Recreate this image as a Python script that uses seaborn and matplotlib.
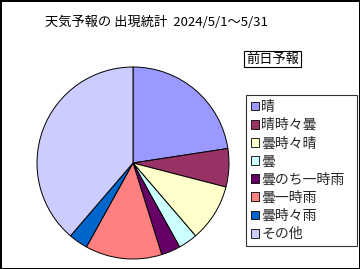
import matplotlib
matplotlib.use("Agg")
import matplotlib.pyplot as plt
import seaborn as sns
from matplotlib.patches import Patch

sns.set_theme(style="white")
plt.rcParams['font.family'] = ['Noto Sans CJK JP', 'DejaVu Sans']

categories = ["晴", "晴時々曇", "曇時々晴", "曇", "曇のち一時雨", "曇一時雨", "曇時々雨", "その他"]
days = [7, 2, 3, 1, 1, 4, 1, 12]
colors = ["#9999FF", "#993366", "#FFFFCC", "#CCFFFF", "#660066", "#FF8080", "#0066CC", "#CCCCFF"]
title = "天気予報の 出現統計  2024/5/1～5/31"
subtitle = "前日予報"

W, H = 360, 269
fig = plt.figure(figsize=(W / 100, H / 100), dpi=100)
fig.patch.set_facecolor("white")
fig.patch.set_edgecolor("black")
fig.patch.set_linewidth(2)

cx, cy, r = 133, 163, 96
ax = fig.add_axes([(cx - r) / W, (H - cy - r) / H, 2 * r / W, 2 * r / H])
ax.pie(days, colors=colors, startangle=90, counterclock=False,
       wedgeprops=dict(edgecolor="black", linewidth=0.7))
ax.set_xlim(-1.0, 1.0)
ax.set_ylim(-1.0, 1.0)
ax.set_aspect("equal")
ax.axis("off")

fig.text(45 / W, 1 - 22 / H, title, fontsize=9.5, ha="left", va="center", color="black")
fig.text(246 / W, 1 - 59 / H, subtitle, fontsize=9.5, ha="left", va="center", color="black",
         bbox=dict(boxstyle="square,pad=0.15", facecolor="white", edgecolor="black", linewidth=0.8))

handles = [Patch(facecolor=c, edgecolor="black", linewidth=0.6) for c in colors]
leg = fig.legend(handles, categories, loc="upper left",
                 bbox_to_anchor=(246 / W, 1 - 95 / H, 111 / W, 0.0), mode="expand",
                 borderaxespad=0, fontsize=10, frameon=True, fancybox=False,
                 handlelength=0.6, handleheight=0.6, handletextpad=0.15,
                 labelspacing=0.3, borderpad=0.35)
leg.get_frame().set_edgecolor("black")
leg.get_frame().set_linewidth(0.8)

fig.savefig("out.png", dpi=100)
